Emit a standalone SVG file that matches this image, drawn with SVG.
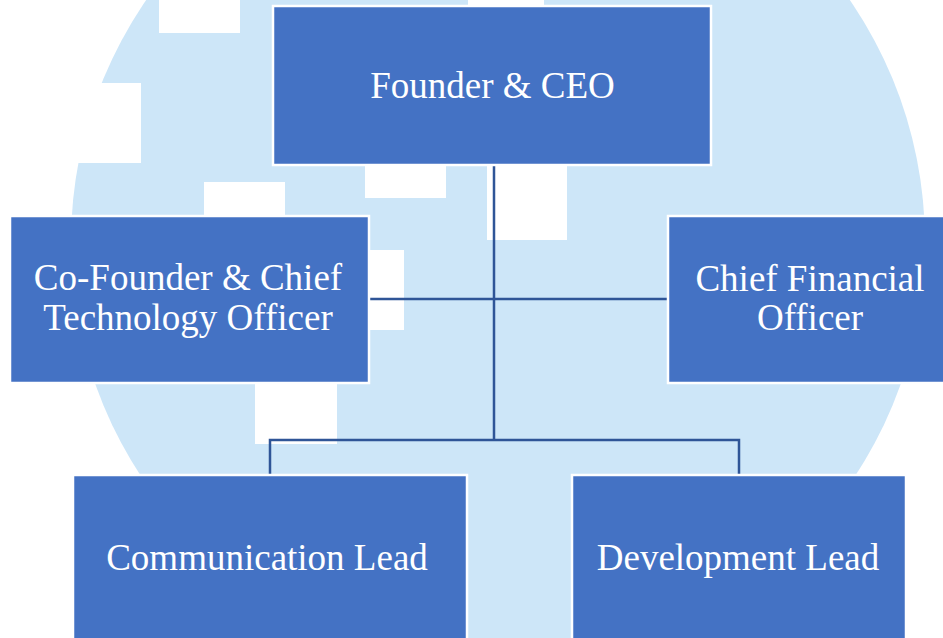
<svg xmlns="http://www.w3.org/2000/svg" width="943" height="638" viewBox="0 0 943 638">
  <style>
    .box { fill: #4472c4; stroke: #ffffff; stroke-width: 2.5; }
    .lbl { font-family: "Liberation Serif", "Times New Roman", serif; font-size: 37px; fill: #ffffff; text-anchor: middle; }
    .cut { fill: #ffffff; }
    .conn { fill: none; stroke: #2f5597; stroke-width: 2.5; }
  </style>
  <rect x="0" y="0" width="943" height="638" fill="#ffffff"/>
  <g id="background">
    <circle cx="498" cy="242" r="427" fill="#cde6f8"/>
    <rect class="cut" x="159" y="0" width="81" height="33"/>
    <rect class="cut" x="468" y="0" width="76" height="6"/>
    <rect class="cut" x="0" y="83" width="141" height="80"/>
    <rect class="cut" x="204" y="182" width="81" height="34"/>
    <rect class="cut" x="365" y="165" width="81" height="33"/>
    <rect class="cut" x="487" y="165" width="80" height="75"/>
    <rect class="cut" x="370" y="250" width="34" height="80"/>
    <rect class="cut" x="255" y="384" width="82" height="60"/>
  </g>
  <g id="connectors">
    <line class="conn" x1="494" y1="165" x2="494" y2="440"/>
    <line class="conn" x1="369" y1="299" x2="667" y2="299"/>
    <polyline class="conn" points="270,475 270,440 739,440 739,475"/>
  </g>
  <g id="ceo">
    <rect class="box" x="273" y="6" width="438" height="159"/>
    <text class="lbl" x="492.5" y="98">Founder &amp; CEO</text>
  </g>
  <g id="cto">
    <rect class="box" x="10" y="216" width="359" height="167"/>
    <text class="lbl" x="188" y="290">Co-Founder &amp; Chief</text>
    <text class="lbl" x="188" y="330">Technology Officer</text>
  </g>
  <g id="cfo">
    <rect class="box" x="668" y="216" width="285" height="167"/>
    <text class="lbl" x="810" y="291">Chief Financial</text>
    <text class="lbl" x="810" y="330">Officer</text>
  </g>
  <g id="comm">
    <rect class="box" x="73" y="475" width="394" height="175"/>
    <text class="lbl" x="267" y="570">Communication Lead</text>
  </g>
  <g id="dev">
    <rect class="box" x="572" y="475" width="334" height="175"/>
    <text class="lbl" x="738" y="570">Development Lead</text>
  </g>
</svg>
